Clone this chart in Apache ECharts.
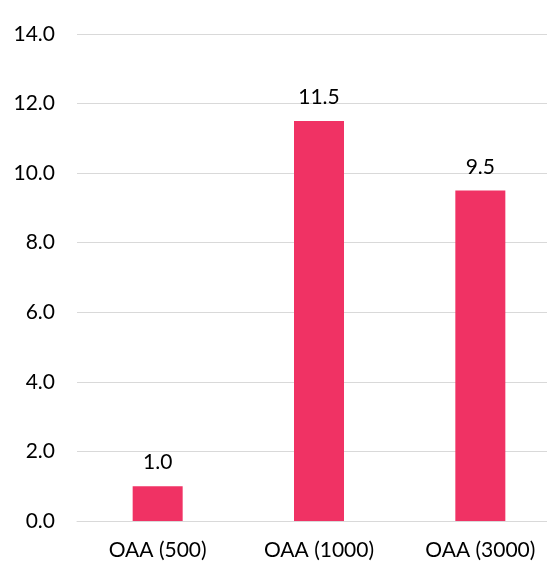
<!DOCTYPE html>
<html>
<head>
<meta charset="utf-8">
<script src="https://cdn.jsdelivr.net/npm/echarts@6/dist/echarts.min.js"></script>
<style>
  html, body { margin: 0; padding: 0; background: #fff; overflow: hidden; }
  /* plot area runs slightly past the right edge of the window */
  #chart { width: 561px; height: 562px; }
</style>
</head>
<body>
<div id="chart"></div>
<script>
// Categories and values
const categories = ['OAA (500)', 'OAA (1000)', 'OAA (3000)'];
const values = [1.0, 11.5, 9.5];
const yTicks = { min: 0, max: 14, interval: 2 };

const fontFamily = 'Lato, "Liberation Sans", sans-serif';
const chart = echarts.init(document.getElementById('chart'));
chart.setOption({
  animation: false,
  backgroundColor: '#ffffff',
  grid: { left: 77, top: 34, right: 0, bottom: 41, containLabel: false },
  xAxis: {
    type: 'category',
    data: categories,
    axisLine: { show: true, lineStyle: { color: '#d9d9d9', width: 1 } },
    axisTick: { show: false },
    axisLabel: { color: '#000', fontSize: 21, fontFamily, margin: 19 }
  },
  yAxis: {
    type: 'value',
    min: yTicks.min,
    max: yTicks.max,
    interval: yTicks.interval,
    axisLine: { show: false },
    axisTick: { show: false },
    splitLine: { lineStyle: { color: '#d9d9d9', width: 1 } },
    axisLabel: {
      color: '#000', fontSize: 21, fontFamily, margin: 22,
      formatter: v => v.toFixed(1)
    }
  },
  series: [{
    type: 'bar',
    data: values,
    barWidth: 50,
    itemStyle: { color: '#f03264' },
    label: {
      show: true,
      position: 'top',
      distance: 13,
      color: '#000',
      fontSize: 21,
      fontFamily,
      formatter: p => p.value.toFixed(1)
    }
  }]
});
</script>
</body>
</html>
